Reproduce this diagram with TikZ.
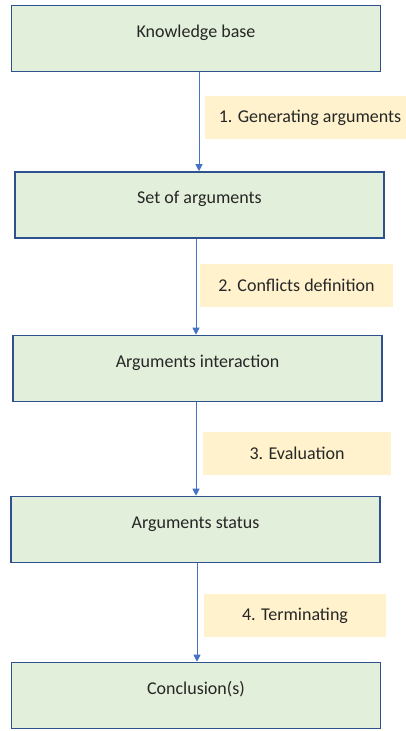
\documentclass[tikz,border=0pt]{standalone}
\usepackage{fontspec}
\setmainfont{Carlito}
\usetikzlibrary{arrows.meta}
\definecolor{boxfill}{HTML}{E2EFDA}
\definecolor{boxline}{HTML}{2F528F}
\definecolor{labfill}{HTML}{FFF2CC}
\definecolor{arrowc}{HTML}{4472C4}
\tikzset{
  stagebox/.style={draw=boxline, line width=1.6pt, fill=boxfill, rectangle,
    minimum width=369pt, minimum height=66pt, inner sep=0pt,
    font=\fontsize{18pt}{21pt}\selectfont, text=black!85, text height=13pt, text depth=16pt},
  steplabel/.style={fill=labfill, rectangle, inner sep=0pt, minimum height=43pt,
    font=\fontsize{18pt}{21pt}\selectfont, text=black!85},
  flow/.style={draw=arrowc, line width=0.8pt, -{Triangle[length=7pt,width=7pt]}}
}
\begin{document}
\begin{tikzpicture}[x=1pt,y=-1pt]
\useasboundingbox (0,0) rectangle (406,731);
\node[stagebox] (kb) at (196,38.5) {Knowledge base};
\node[stagebox] (soa) at (199.5,205) {Set of arguments};
\node[stagebox] (ai) at (197.5,368.5) {Arguments interaction};
\node[stagebox] (as) at (195.5,529.5) {Arguments status};
\node[stagebox] (con) at (196,695.5) {Conclusion(s)};
\node[steplabel, minimum width=201pt] (l1) at (305.5,117.5) {\hspace*{9pt}1. Generating arguments};
\node[steplabel, minimum width=193pt] (l2) at (296.5,285.5) {2. Conflicts definition};
\node[steplabel, minimum width=188pt] (l3) at (297,453.5) {3. Evaluation};
\node[steplabel, minimum width=182pt] (l4) at (295,615.5) {4. Terminating};
\draw[flow] (kb.south -| 199,0) -- (soa.north -| 199,0);
\draw[flow] (soa.south -| 196,0) -- (ai.north -| 196,0);
\draw[flow] (ai.south -| 196,0) -- (as.north -| 196,0);
\draw[flow] (as.south -| 197,0) -- (con.north -| 197,0);
\end{tikzpicture}
\end{document}
